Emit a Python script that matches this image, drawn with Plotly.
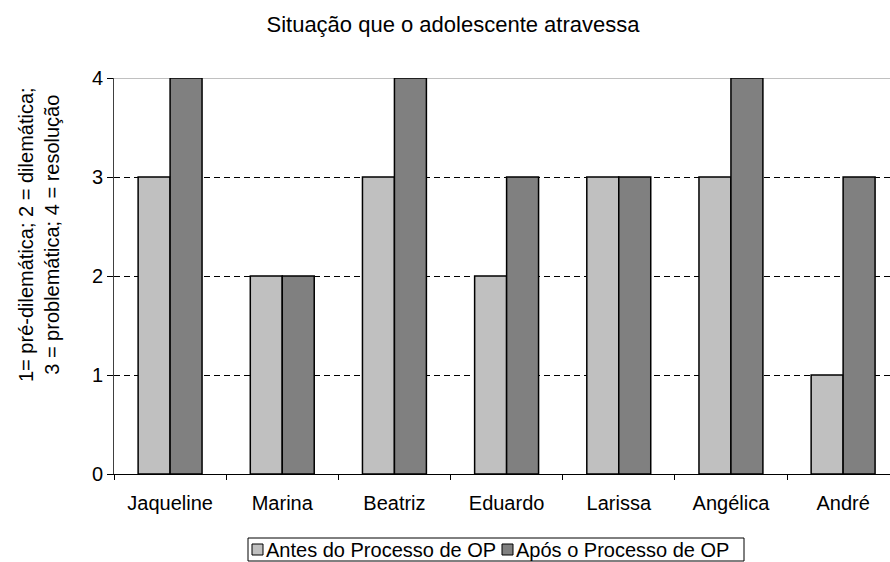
import plotly.graph_objects as go

# Adolescents and their stage before / after the OP process
nomes = ["Jaqueline", "Marina", "Beatriz", "Eduardo", "Larissa", "Angélica", "André"]
antes = [3, 2, 3, 2, 3, 3, 1]
apos = [4, 2, 4, 3, 3, 4, 3]
y_ticks = [0, 1, 2, 3, 4]

series = [
    ("Antes do Processo de OP", antes, "#C0C0C0"),
    ("Após o Processo de OP", apos, "#808080"),
]

FONT = "Liberation Sans, Arial, sans-serif"

# plot area in pixels (left, top, bottom); the category axis runs past the right edge
W, H = 890, 562
L, T, B = 114, 78, 474
PW, PH = W - L, B - T


def px_x(p):
    return (p - L) / PW


def px_y(p):
    return (B - p) / PH


fig = go.Figure()
for name, vals, color in series:
    fig.add_trace(go.Bar(
        x=nomes, y=vals, name=name, showlegend=False,
        marker=dict(color=color, line=dict(color="black", width=1.5)),
    ))

# solid light-grey line at the top of the value axis
fig.add_shape(type="line", xref="paper", yref="y", x0=0, x1=1, y0=4, y1=4,
              line=dict(color="#C0C0C0", width=2), layer="between")

fig.add_annotation(
    text="1= pré-dilemática; 2 = dilemática;<br>3 = problemática; 4 = resolução",
    textangle=-90, xref="paper", yref="paper",
    x=px_x(39), y=px_y(235),
    xanchor="center", yanchor="middle", showarrow=False,
    font=dict(family=FONT, size=20, color="black"),
)

# compact boxed legend below the chart
leg_box = (248, 538, 744, 561)
leg_items = [(252, 265), (502, 515)]
leg_cy = 549.5
fig.add_shape(type="rect", xref="paper", yref="paper",
              x0=px_x(leg_box[0]), x1=px_x(leg_box[2]),
              y0=px_y(leg_box[1]), y1=px_y(leg_box[3]),
              line=dict(color="black", width=1), fillcolor="white")
for (sx, tx), (name, _, color) in zip(leg_items, series):
    fig.add_shape(type="rect", xref="paper", yref="paper",
                  x0=px_x(sx), x1=px_x(sx + 11),
                  y0=px_y(leg_cy - 5.5), y1=px_y(leg_cy + 5.5),
                  line=dict(color="black", width=1), fillcolor=color)
    fig.add_annotation(text=name, xref="paper", yref="paper",
                       x=px_x(tx), y=px_y(leg_cy), xanchor="left", yanchor="middle",
                       showarrow=False, borderpad=0,
                       font=dict(family=FONT, size=20, color="black"))

fig.update_layout(
    width=W, height=H,
    margin=dict(l=L, r=0, t=T, b=H - B),
    paper_bgcolor="white", plot_bgcolor="white",
    font=dict(family=FONT, size=20, color="black"),
    title=dict(text="Situação que o adolescente atravessa",
               x=453 / W, xanchor="center", xref="container",
               y=1 - 24 / H, yanchor="middle", yref="container",
               font=dict(family=FONT, size=22, color="black")),
    barmode="group", bargap=0.43, bargroupgap=0,
    showlegend=False,
)

fig.update_xaxes(
    type="category", range=[-0.5, 6.418],
    showline=True, linecolor="black", linewidth=1,
    ticks="outside", ticklen=5, tickcolor="black", tickson="boundaries",
    ticklabelstandoff=11,
    showgrid=False, zeroline=False,
)
fig.update_yaxes(
    range=[0, 4], tickvals=y_ticks,
    showline=True, linecolor="#404040", linewidth=1,
    ticks="outside", ticklen=6, tickcolor="black",
    showgrid=True, gridcolor="black", gridwidth=1, griddash="6px,4px",
    zeroline=False,
)

fig.write_html("out.html")
